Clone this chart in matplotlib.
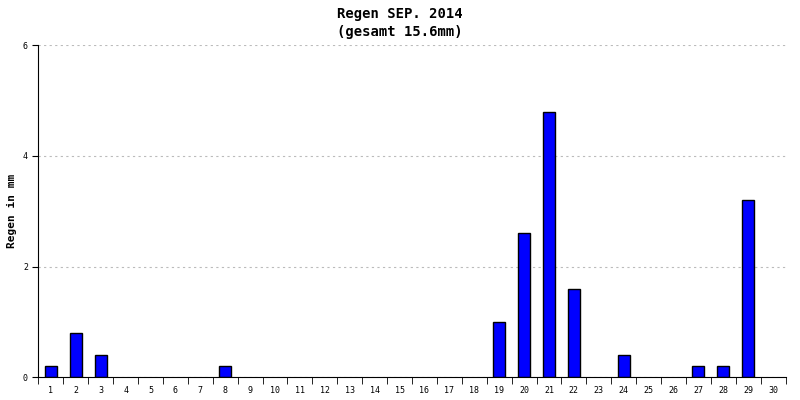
import matplotlib
matplotlib.use("Agg")
import matplotlib.pyplot as plt
import numpy as np

days = list(range(1, 31))
rain = [0.2, 0.8, 0.4, 0, 0, 0, 0, 0.2, 0, 0,
        0, 0, 0, 0, 0, 0, 0, 0, 1.0, 2.6,
        4.8, 1.6, 0, 0.4, 0, 0, 0.2, 0.2, 3.2, 0]

plt.rcParams['font.family'] = 'DejaVu Sans Mono'
fig = plt.figure(figsize=(8, 4), dpi=100)
ax = fig.add_axes([0.048, 0.057, 0.934, 0.83])

x = np.arange(len(days))
mask = [v > 0 for v in rain]
ax.bar(x[mask], np.array(rain)[mask], width=0.48, color='#0000ff', edgecolor='black', linewidth=1)

ax.set_xlim(-0.5, len(days) - 0.5)
ax.set_ylim(0, 6)
ax.set_yticks([0, 2, 4, 6])
ax.set_xticks(x)
ax.set_xticklabels([str(d) for d in days], fontsize=6)
ax.set_xticks(np.arange(-0.5, len(days), 1), minor=True)
ax.tick_params(axis='x', which='major', length=0, pad=6)
ax.tick_params(axis='x', which='minor', length=5)
ax.tick_params(axis='y', labelsize=6, length=4)
ax.yaxis.grid(True, linestyle=(0, (2, 3)), color='#bbbbbb', linewidth=0.8)
ax.set_axisbelow(True)
for s in ['top', 'right']:
    ax.spines[s].set_visible(False)
ax.set_ylabel('Regen in mm', fontsize=8, fontweight='bold')
fig.text(0.5, 0.965, 'Regen SEP. 2014', ha='center', va='center', fontsize=10, fontweight='bold')
fig.text(0.5, 0.92, '(gesamt 15.6mm)', ha='center', va='center', fontsize=10, fontweight='bold')

fig.savefig('out.png')
